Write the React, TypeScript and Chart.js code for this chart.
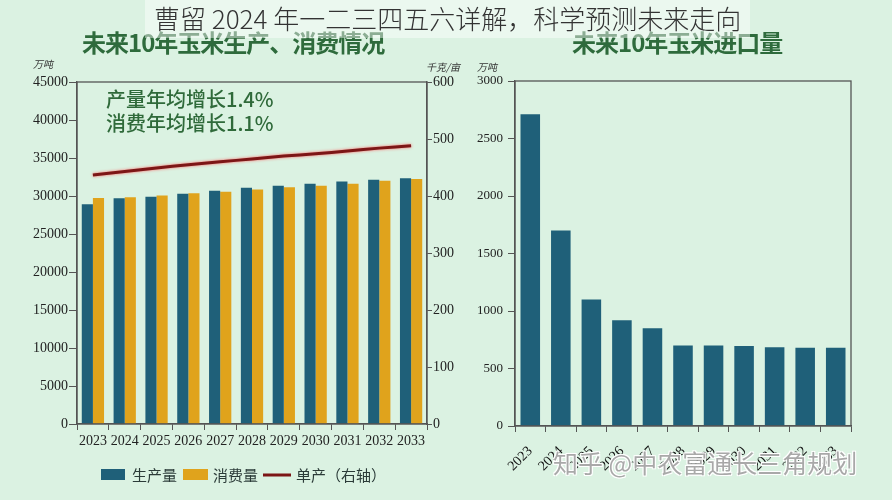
import React, { useEffect, useRef } from "react";
import { Chart, registerables } from "chart.js";
Chart.register(...registerables);

const years = ["2023", "2024", "2025", "2026", "2027", "2028", "2029", "2030", "2031", "2032", "2033"];
const production = [28900, 29700, 29900, 30300, 30700, 31100, 31350, 31600, 31900, 32150, 32350];
const consumption = [29750, 29850, 30050, 30350, 30550, 30850, 31150, 31350, 31600, 32000, 32250];
const unitYield = [437, 443, 449, 455, 460, 465, 470, 474, 479, 484, 488];
const imports = [2710, 1700, 1100, 920, 850, 700, 700, 695, 685, 680, 680];

const leftAxisMax = 45000;
const leftAxisStep = 5000;
const rightAxisMax = 600;
const rightAxisStep = 100;
const importAxisMax = 3000;
const importAxisStep = 500;

const legendLabels = ["生产量", "消费量", "单产（右轴）"];

const TEAL = "#1f6079";
const YELLOW = "#e0a31c";
const RED = "#7c1616";
const AXIS = "#555";
const NUM_FONT = "'Liberation Serif', serif";
const CJK = "'Noto Sans CJK SC', sans-serif";

const plain = (v: any) => String(v);

const framePlugin = {
  id: "frame",
  afterDraw(chart: any) {
    const { ctx, chartArea: a } = chart;
    ctx.save();
    ctx.strokeStyle = AXIS;
    ctx.lineWidth = 1.3;
    ctx.strokeRect(a.left, a.top, a.right - a.left, a.bottom - a.top);
    ctx.restore();
  },
};

const glowPlugin = {
  id: "glow",
  beforeDatasetDraw(chart: any, args: any) {
    if (chart.data.datasets[args.index].type === "line") {
      chart.ctx.save();
      chart.ctx.shadowColor = "rgba(255,90,90,0.9)";
      chart.ctx.shadowBlur = 3;
    }
  },
  afterDatasetDraw(chart: any, args: any) {
    if (chart.data.datasets[args.index].type === "line") {
      chart.ctx.restore();
    }
  },
};

const legendPlugin = {
  id: "customLegend",
  afterDraw(chart: any) {
    const ctx = chart.ctx;
    const y = 475;
    ctx.save();
    ctx.font = `15px ${CJK}`;
    ctx.textBaseline = "middle";
    ctx.fillStyle = TEAL;
    ctx.fillRect(101, y - 6, 24, 11);
    ctx.fillStyle = "#2b3b38";
    ctx.fillText(legendLabels[0], 132, y);
    ctx.fillStyle = YELLOW;
    ctx.fillRect(183, y - 6, 25, 11);
    ctx.fillStyle = "#2b3b38";
    ctx.fillText(legendLabels[1], 213, y);
    ctx.strokeStyle = RED;
    ctx.lineWidth = 3;
    ctx.beginPath();
    ctx.moveTo(263, y);
    ctx.lineTo(291, y);
    ctx.stroke();
    ctx.fillText(legendLabels[2], 296, y);
    ctx.restore();
  },
};

export default function App() {
  const leftRef = useRef<HTMLCanvasElement>(null);
  const rightRef = useRef<HTMLCanvasElement>(null);

  useEffect(() => {
    document.body.style.margin = "0";
    const tickFont = { family: NUM_FONT, size: 14 };
    const left = new Chart(leftRef.current as HTMLCanvasElement, {
      type: "bar",
      data: {
        labels: years,
        datasets: [
          {
            type: "line",
            label: legendLabels[2],
            data: unitYield,
            yAxisID: "y1",
            borderColor: RED,
            borderWidth: 3,
            pointRadius: 0,
            tension: 0.2,
            order: 0,
          } as any,
          {
            label: legendLabels[0],
            data: production,
            backgroundColor: TEAL,
            categoryPercentage: 0.7,
            barPercentage: 1,
            yAxisID: "y",
            order: 1,
          },
          {
            label: legendLabels[1],
            data: consumption,
            backgroundColor: YELLOW,
            categoryPercentage: 0.7,
            barPercentage: 1,
            yAxisID: "y",
            order: 1,
          },
        ],
      },
      options: {
        animation: false,
        responsive: false,
        layout: { padding: { left: 0, top: 82, right: 3, bottom: 46 } },
        plugins: { legend: { display: false }, tooltip: { enabled: false } },
        scales: {
          x: {
            grid: { drawOnChartArea: false, tickLength: 6, color: AXIS, offset: true },
            border: { color: AXIS, width: 1.3 },
            ticks: { font: tickFont, color: "#222", padding: 3, maxRotation: 0, autoSkip: false },
            afterFit: (s: any) => { s.height = 30; },
          },
          y: {
            min: 0,
            max: leftAxisMax,
            grid: { drawOnChartArea: false, tickLength: 8, color: AXIS },
            border: { color: AXIS, width: 1.3 },
            ticks: { stepSize: leftAxisStep, font: tickFont, color: "#222", padding: 1, callback: plain },
            afterFit: (s: any) => { s.width = 77; },
          },
          y1: {
            position: "right",
            min: 0,
            max: rightAxisMax,
            grid: { drawOnChartArea: false, tickLength: 5, color: AXIS },
            border: { color: AXIS, width: 1.3 },
            ticks: { stepSize: rightAxisStep, font: tickFont, color: "#222", padding: 1, callback: plain },
            afterFit: (s: any) => { s.width = 40; },
          },
        },
      },
      plugins: [framePlugin, glowPlugin, legendPlugin],
    });

    const right = new Chart(rightRef.current as HTMLCanvasElement, {
      type: "bar",
      data: {
        labels: years,
        datasets: [
          {
            label: "进口量",
            data: imports,
            backgroundColor: TEAL,
            categoryPercentage: 1,
            barPercentage: 0.64,
          },
        ],
      },
      options: {
        animation: false,
        responsive: false,
        layout: { padding: { left: 0, top: 81, right: 41, bottom: 0 } },
        plugins: { legend: { display: false }, tooltip: { enabled: false } },
        scales: {
          x: {
            grid: { drawOnChartArea: false, tickLength: 6, color: AXIS, offset: true },
            border: { color: AXIS, width: 1.3 },
            ticks: {
              font: { family: NUM_FONT, size: 14 },
              color: "#111",
              padding: 11,
              minRotation: 45,
              maxRotation: 45,
              autoSkip: false,
            },
            afterFit: (s: any) => { s.height = 74; },
          },
          y: {
            min: 0,
            max: importAxisMax,
            grid: { drawOnChartArea: false, tickLength: 7, color: AXIS },
            border: { color: AXIS, width: 1.3 },
            ticks: { stepSize: importAxisStep, font: { family: NUM_FONT, size: 13 }, color: "#222", padding: 5, callback: plain },
            afterFit: (s: any) => { s.width = 45; },
          },
        },
      },
      plugins: [framePlugin],
    });

    return () => {
      left.destroy();
      right.destroy();
    };
  }, []);

  const abs = (x: number, y: number): React.CSSProperties => ({ position: "absolute", left: x, top: y, whiteSpace: "nowrap" });

  return (
    <div style={{ position: "relative", width: 892, height: 500, background: "#dbf2e2", overflow: "hidden", fontFamily: CJK }}>
      <canvas ref={leftRef} width={470} height={500} style={{ position: "absolute", left: 0, top: 0 }} />
      <canvas ref={rightRef} width={422} height={500} style={{ position: "absolute", left: 470, top: 0 }} />
      <div style={{ ...abs(82, 24), fontSize: 24, fontWeight: 700, color: "#2e6b3c", letterSpacing: -1 }}>未来10年玉米生产、消费情况</div>
      <div style={{ ...abs(572, 24), fontSize: 24, fontWeight: 700, color: "#2e6b3c", letterSpacing: -1 }}>未来10年玉米进口量</div>
      <div style={{ ...abs(33, 56), fontSize: 10, fontStyle: "italic", color: "#333" }}>万吨</div>
      <div style={{ ...abs(426, 59), fontSize: 10, fontStyle: "italic", color: "#333" }}>千克/亩</div>
      <div style={{ ...abs(477, 59), fontSize: 10, fontStyle: "italic", color: "#333" }}>万吨</div>
      <div style={{ ...abs(106, 87), fontSize: 20, fontWeight: 500, color: "#2f6a3a", lineHeight: "24px" }}>
        产量年均增长1.4%
        <br />
        消费年均增长1.1%
      </div>
      <div style={{ position: "absolute", left: 145, top: 0, width: 605, height: 38, background: "rgba(255,255,255,0.45)" }} />
      <div style={{ ...abs(154, 3), fontSize: 26, fontWeight: 300, color: "#333", lineHeight: "30px" }}>曹留 2024 年一二三四五六详解，科学预测未来走向</div>
      <div
        style={{
          ...abs(553, 447),
          fontSize: 25,
          color: "rgba(140,140,140,0.75)",
          textShadow: "1px 1px 0 #fff, -1px -1px 0 #fff, 1px -1px 0 #fff, -1px 1px 0 #fff",
          lineHeight: "30px",
        }}
      >
        知乎 @中农富通长三角规划
      </div>
    </div>
  );
}
